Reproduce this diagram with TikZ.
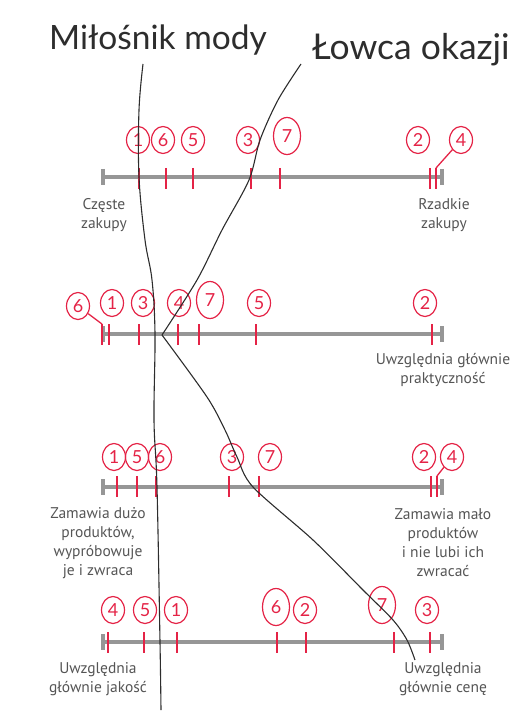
\documentclass[tikz,border=0pt]{standalone}
\usepackage{fontspec}
\setmainfont{PT Sans}
\newfontfamily\titlefont{Lato}
\usetikzlibrary{shapes.geometric}
\definecolor{scalegray}{RGB}{150,150,150}
\definecolor{textgray}{RGB}{85,85,85}
\definecolor{penred}{RGB}{228,35,70}
\definecolor{penblack}{RGB}{45,45,45}
\tikzset{
  scaleline/.style={scalegray,line width=3.5pt},
  pmark/.style={penred,line width=1.3pt},
  pick/.style={ellipse,draw=penred,line width=1.2pt,text=penred,inner sep=0pt,
    minimum width=23pt,minimum height=27pt,font=\titlefont\fontsize{18}{18}\selectfont},
  tall/.style={minimum width=27pt,minimum height=37pt},
  lbl/.style={align=center,text=textgray,font=\fontsize{15.5}{19}\selectfont},
  title/.style={text=penblack,inner sep=0pt,font=\titlefont\fontsize{33.5}{34}\selectfont},
  pen/.style={penblack,line width=1.1pt}
}
\begin{document}
\begin{tikzpicture}[x=1pt,y=-1pt]
\useasboundingbox (0,0) rectangle (514,722);
% titles
\node[title,anchor=base west] (fan) at (49,50) {Miłośnik mody};
\node[title,anchor=base west,font=\titlefont\fontsize{35.5}{36}\selectfont] (hunter) at (312,60) {Łowca okazji};
% the four scales
\foreach \y in {177,334,487,642}{
  \draw[scaleline] (103,\y)--(442,\y);
  \draw[scaleline] (103,\y-8)--(103,\y+8) (442,\y-8)--(442,\y+8);
}
% row 1: purchase frequency
\foreach \x in {139,166,193,251,280,430,436} \draw[pmark] (\x,168)--(\x,189);
\foreach \n/\x in {1/138,6/163,5/193,3/248,2/418} \node[pick] (a\n) at (\x,140) {\n};
\node[pick,tall] (a7) at (287,136) {7};
\node[pick] (a4) at (461,140) {4};
\coordinate (a4t) at (436,168);
\draw[pmark] (a4) -- (a4t);
\node[lbl] (a-lo) at (104,215) {Częste\\zakupy};
\node[lbl] (a-hi) at (444,215) {Rzadkie\\zakupy};
% row 2: practicality
\foreach \x in {102,109,139,178,199,256,432} \draw[pmark] (\x,324)--(\x,345);
\foreach \n/\x in {1/112,3/143,4/179,5/259,2/425} \node[pick] (b\n) at (\x,303) {\n};
\node[pick] (b6) at (78,306) {6};
\node[pick,tall] (b7) at (210,300) {7};
\coordinate (b6t) at (102,324);
\draw[pmark] (b6) -- (b6t);
\node[lbl] (b-hi) at (443,370) {Uwzględnia głównie\\praktyczność};
% row 3: returns
\foreach \x in {117,137,156,229,259,431,437} \draw[pmark] (\x,476)--(\x,497);
\foreach \n/\x in {1/114,5/137,6/160,3/232,7/270,2/424} \node[pick] (c\n) at (\x,457) {\n};
\node[pick] (c4) at (452,457) {4};
\coordinate (c4t) at (437,476);
\draw[pmark] (c4) -- (c4t);
\node[lbl] (c-lo) at (98,543) {Zamawia dużo\\produktów,\\wypróbowuje\\je i zwraca};
\node[lbl] (c-hi) at (443,543) {Zamawia mało\\produktów\\i nie lubi ich\\zwracać};
% row 4: quality vs price
\foreach \x in {108,144,177,277,306,394,430} \draw[pmark] (\x,632)--(\x,653);
\foreach \n/\x in {4/113,5/145,1/176,2/305,3/427} \node[pick] (d\n) at (\x,610) {\n};
\node[pick,tall] (d6) at (276,607) {6};
\node[pick,tall] (d7) at (382,605) {7};
\node[lbl] (d-lo) at (98,679) {Uwzględnia\\głównie jakość};
\node[lbl] (d-hi) at (443,679) {Uwzględnia\\głównie cenę};
% segment lines
\draw[pen] plot[smooth,tension=0.6] coordinates {(143,64) (139,110) (139,177) (145,240) (152,280) (155,334) (154,420) (157,487) (160,642) (161,710)};
\draw[pen] plot[smooth,tension=0.5] coordinates {(301,64) (278,100) (260,140) (249,180) (222,230) (197,280) (162,335)};
\draw[pen] plot[smooth,tension=0.5] coordinates {(162,335) (207,397) (225,430) (237,457) (253,487) (313,540) (363,590) (393,620) (407,640) (415,660)};
\end{tikzpicture}
\end{document}
